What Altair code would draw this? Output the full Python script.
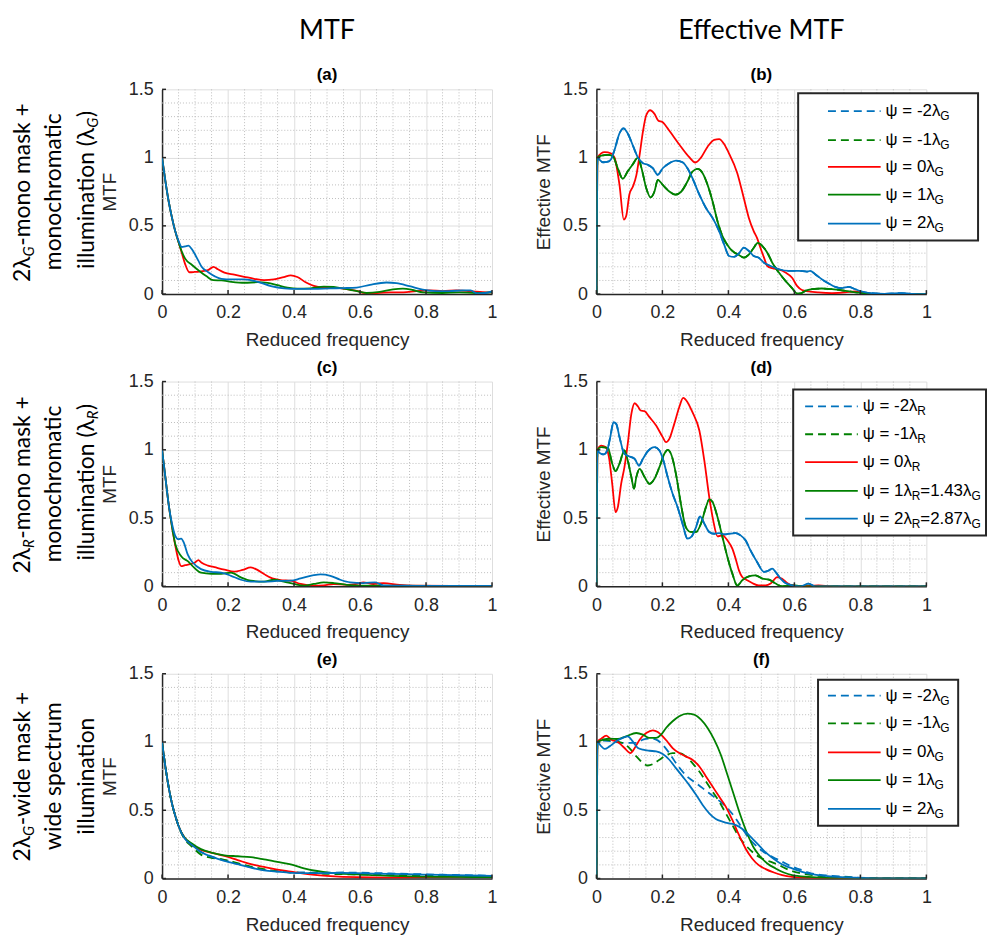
import altair as alt
import pandas as pd

# ---------------- axis ticks / grid positions ----------------
XTICKS = [0, 0.2, 0.4, 0.6, 0.8, 1.0]
YTICKS = [0, 0.5, 1.0, 1.5]
X_MINOR = [0.05, 0.1, 0.15, 0.25, 0.3, 0.35, 0.45, 0.5, 0.55, 0.65, 0.7, 0.75, 0.85, 0.9, 0.95]
Y_MINOR = [0.1, 0.2, 0.3, 0.4, 0.6, 0.7, 0.8, 0.9, 1.1, 1.2, 1.3, 1.4]

# ---------------- panel (a): MTF, 2λG-mono mask, λG ----------------
A_RED_X = [0, 0.01, 0.02, 0.03, 0.04, 0.05, 0.06, 0.07, 0.083, 0.098, 0.118, 0.139, 0.156, 0.169, 0.189, 0.219, 0.249, 0.279, 0.309, 0.339, 0.369, 0.39, 0.41, 0.435, 0.46, 0.49, 0.51, 0.55, 0.59, 0.615, 0.651, 0.691, 0.731, 0.771, 0.811, 0.851, 0.892, 0.932, 0.972, 1.0]
A_RED_Y = [1.0, 0.83, 0.68, 0.56, 0.46, 0.38, 0.30, 0.22, 0.16, 0.162, 0.167, 0.175, 0.20, 0.182, 0.157, 0.142, 0.127, 0.112, 0.102, 0.108, 0.125, 0.137, 0.125, 0.087, 0.06, 0.048, 0.046, 0.04, 0.023, 0.008, 0.008, 0.012, 0.012, 0.022, 0.027, 0.022, 0.027, 0.022, 0.015, 0.012]
A_GREEN_X = [0, 0.01, 0.02, 0.03, 0.04, 0.05, 0.06, 0.07, 0.09, 0.11, 0.135, 0.155, 0.18, 0.21, 0.25, 0.29, 0.32, 0.35, 0.38, 0.41, 0.45, 0.49, 0.52, 0.55, 0.59, 0.62, 0.66, 0.70, 0.73, 0.76, 0.79, 0.85, 0.90, 0.95, 1.0]
A_GREEN_Y = [1.0, 0.83, 0.68, 0.56, 0.46, 0.38, 0.31, 0.26, 0.215, 0.175, 0.13, 0.102, 0.10, 0.09, 0.083, 0.087, 0.082, 0.065, 0.048, 0.04, 0.042, 0.055, 0.052, 0.04, 0.022, 0.008, 0.016, 0.035, 0.04, 0.03, 0.013, 0.008, 0.012, 0.008, 0.012]
A_BLUE_X = [0, 0.01, 0.02, 0.03, 0.04, 0.05, 0.06, 0.07, 0.08, 0.09, 0.10, 0.11, 0.12, 0.14, 0.16, 0.18, 0.21, 0.25, 0.29, 0.33, 0.37, 0.41, 0.46, 0.51, 0.55, 0.59, 0.63, 0.68, 0.71, 0.75, 0.79, 0.83, 0.87, 0.91, 0.935, 0.955, 0.98, 1.0]
A_BLUE_Y = [1.0, 0.83, 0.68, 0.56, 0.46, 0.39, 0.345, 0.35, 0.355, 0.33, 0.29, 0.245, 0.20, 0.16, 0.13, 0.112, 0.108, 0.108, 0.09, 0.058, 0.042, 0.038, 0.038, 0.042, 0.044, 0.048, 0.068, 0.085, 0.08, 0.058, 0.033, 0.022, 0.022, 0.027, 0.027, 0.005, 0.008, 0.02]

# ---------------- panel (b): Effective MTF ----------------
B_RED_X = [0, 0.003, 0.025, 0.045, 0.055, 0.07, 0.083, 0.09, 0.10, 0.111, 0.121, 0.131, 0.141, 0.151, 0.163, 0.176, 0.188, 0.20, 0.22, 0.25, 0.28, 0.30, 0.317, 0.337, 0.357, 0.372, 0.387, 0.40, 0.427, 0.447, 0.462, 0.477, 0.487, 0.497, 0.508, 0.518, 0.533, 0.553, 0.573, 0.593, 0.608, 0.623, 0.643, 0.673, 0.714, 0.754, 0.784, 0.804, 0.844, 1.0]
B_RED_Y = [0, 1.0, 1.04, 1.03, 1.0, 0.80, 0.546, 0.57, 0.73, 0.79, 0.87, 1.02, 1.19, 1.31, 1.347, 1.32, 1.27, 1.26, 1.20, 1.10, 1.007, 0.964, 1.0, 1.08, 1.13, 1.136, 1.10, 1.04, 0.886, 0.70, 0.558, 0.46, 0.41, 0.34, 0.267, 0.206, 0.19, 0.18, 0.158, 0.12, 0.06, 0.03, 0.02, 0.012, 0.007, 0.012, 0.02, 0.01, 0.0, 0.0]
B_GREEN_X = [0, 0.003, 0.015, 0.035, 0.05, 0.065, 0.08, 0.095, 0.11, 0.126, 0.136, 0.151, 0.164, 0.176, 0.186, 0.201, 0.221, 0.239, 0.256, 0.276, 0.291, 0.307, 0.322, 0.337, 0.352, 0.367, 0.382, 0.397, 0.412, 0.432, 0.447, 0.462, 0.477, 0.489, 0.503, 0.518, 0.533, 0.553, 0.573, 0.593, 0.608, 0.618, 0.633, 0.653, 0.683, 0.714, 0.754, 0.794, 0.844, 1.0]
B_GREEN_Y = [0, 1.0, 1.015, 1.02, 1.01, 0.92, 0.845, 0.90, 0.95, 1.0, 0.93, 0.777, 0.709, 0.752, 0.837, 0.80, 0.752, 0.728, 0.748, 0.825, 0.898, 0.917, 0.886, 0.80, 0.68, 0.534, 0.425, 0.36, 0.316, 0.286, 0.267, 0.29, 0.34, 0.376, 0.352, 0.303, 0.23, 0.158, 0.097, 0.044, 0.005, 0.005, 0.024, 0.036, 0.041, 0.036, 0.024, 0.01, 0.0, 0.0]
B_BLUE_X = [0, 0.003, 0.01, 0.02, 0.035, 0.045, 0.055, 0.07, 0.082, 0.095, 0.11, 0.126, 0.141, 0.156, 0.171, 0.186, 0.201, 0.221, 0.241, 0.261, 0.276, 0.291, 0.312, 0.332, 0.352, 0.372, 0.387, 0.402, 0.417, 0.432, 0.447, 0.462, 0.477, 0.492, 0.508, 0.528, 0.553, 0.583, 0.613, 0.638, 0.648, 0.663, 0.683, 0.704, 0.724, 0.744, 0.764, 0.784, 0.804, 0.834, 0.874, 0.925, 0.955, 1.0]
B_BLUE_Y = [0, 1.0, 0.983, 0.966, 0.97, 0.99, 1.056, 1.177, 1.214, 1.177, 1.092, 1.0, 0.959, 0.947, 0.922, 0.874, 0.922, 0.959, 0.978, 0.966, 0.922, 0.85, 0.728, 0.631, 0.558, 0.461, 0.364, 0.279, 0.272, 0.299, 0.34, 0.316, 0.279, 0.267, 0.23, 0.206, 0.182, 0.17, 0.17, 0.165, 0.17, 0.146, 0.109, 0.078, 0.053, 0.044, 0.053, 0.036, 0.019, 0.007, 0.002, 0.007, 0.002, 0.0]

# ---------------- panel (c): MTF, 2λR-mono mask, λR ----------------
C_RED_X = [0, 0.01, 0.02, 0.03, 0.04, 0.05, 0.058, 0.07, 0.085, 0.10, 0.11, 0.12, 0.139, 0.159, 0.189, 0.219, 0.244, 0.269, 0.289, 0.309, 0.334, 0.359, 0.39, 0.42, 0.46, 0.49, 0.52, 0.56, 0.59, 0.61, 0.64, 0.671, 0.72, 0.76, 1.0]
C_RED_Y = [1.0, 0.80, 0.60, 0.44, 0.30, 0.19, 0.148, 0.155, 0.162, 0.175, 0.192, 0.172, 0.152, 0.14, 0.122, 0.107, 0.12, 0.138, 0.12, 0.09, 0.058, 0.046, 0.041, 0.017, 0.005, 0.007, 0.017, 0.01, 0.017, 0.029, 0.017, 0.024, 0.01, 0.005, 0.002]
C_GREEN_X = [0, 0.01, 0.02, 0.03, 0.04, 0.058, 0.078, 0.098, 0.118, 0.149, 0.179, 0.209, 0.239, 0.269, 0.309, 0.339, 0.369, 0.40, 0.43, 0.46, 0.49, 0.52, 0.56, 0.60, 1.0]
C_GREEN_Y = [1.0, 0.80, 0.60, 0.44, 0.31, 0.22, 0.184, 0.135, 0.10, 0.092, 0.092, 0.10, 0.065, 0.041, 0.034, 0.048, 0.034, 0.017, 0.005, 0.017, 0.029, 0.024, 0.01, 0.005, 0.002]
C_BLUE_X = [0, 0.01, 0.02, 0.03, 0.04, 0.05, 0.058, 0.066, 0.078, 0.093, 0.118, 0.149, 0.179, 0.209, 0.239, 0.269, 0.309, 0.35, 0.39, 0.42, 0.46, 0.48, 0.51, 0.54, 0.57, 0.61, 0.646, 0.671, 0.72, 0.8, 1.0]
C_BLUE_Y = [1.0, 0.80, 0.60, 0.46, 0.37, 0.345, 0.35, 0.32, 0.232, 0.174, 0.126, 0.106, 0.10, 0.077, 0.048, 0.034, 0.034, 0.039, 0.041, 0.058, 0.082, 0.087, 0.077, 0.048, 0.029, 0.024, 0.029, 0.007, 0.005, 0.003, 0.003]

# ---------------- panel (d): Effective MTF ----------------
D_RED_X = [0, 0.003, 0.015, 0.028, 0.038, 0.048, 0.058, 0.065, 0.075, 0.085, 0.095, 0.106, 0.116, 0.126, 0.134, 0.146, 0.161, 0.181, 0.201, 0.211, 0.221, 0.236, 0.251, 0.263, 0.276, 0.291, 0.312, 0.327, 0.342, 0.354, 0.367, 0.382, 0.397, 0.412, 0.422, 0.432, 0.442, 0.457, 0.472, 0.492, 0.513, 0.528, 0.548, 0.563, 0.578, 0.593, 0.623, 0.673, 0.714, 1.0]
D_RED_Y = [0, 1.0, 1.03, 1.02, 0.946, 0.751, 0.544, 0.58, 0.751, 0.873, 1.044, 1.263, 1.341, 1.317, 1.288, 1.283, 1.239, 1.178, 1.093, 1.056, 1.08, 1.19, 1.312, 1.38, 1.349, 1.276, 1.141, 0.922, 0.654, 0.483, 0.366, 0.373, 0.337, 0.276, 0.202, 0.117, 0.068, 0.044, 0.024, 0.007, 0.007, 0.02, 0.068, 0.056, 0.024, 0.007, 0.0, 0.007, 0.0, 0.0]
D_GREEN_X = [0, 0.003, 0.015, 0.035, 0.048, 0.058, 0.07, 0.085, 0.095, 0.106, 0.114, 0.121, 0.131, 0.146, 0.161, 0.176, 0.191, 0.206, 0.216, 0.226, 0.241, 0.256, 0.271, 0.286, 0.302, 0.317, 0.332, 0.342, 0.352, 0.367, 0.382, 0.397, 0.412, 0.427, 0.442, 0.462, 0.482, 0.503, 0.523, 0.543, 0.563, 0.593, 0.633, 1.0]
D_GREEN_Y = [0, 1.0, 1.02, 1.012, 0.898, 0.844, 0.898, 0.995, 0.922, 0.80, 0.715, 0.80, 0.861, 0.80, 0.751, 0.788, 0.873, 0.971, 1.0, 0.971, 0.824, 0.605, 0.434, 0.398, 0.398, 0.459, 0.58, 0.637, 0.617, 0.507, 0.361, 0.215, 0.093, 0.005, 0.044, 0.073, 0.08, 0.056, 0.049, 0.02, 0.0, 0.007, 0.0, 0.0]
D_BLUE_X = [0, 0.003, 0.01, 0.022, 0.032, 0.042, 0.052, 0.06, 0.07, 0.085, 0.10, 0.116, 0.129, 0.141, 0.156, 0.176, 0.191, 0.203, 0.216, 0.231, 0.246, 0.261, 0.276, 0.289, 0.302, 0.314, 0.327, 0.342, 0.357, 0.372, 0.387, 0.402, 0.422, 0.437, 0.452, 0.467, 0.487, 0.508, 0.523, 0.533, 0.543, 0.558, 0.573, 0.593, 0.618, 0.643, 0.663, 1.0]
D_BLUE_Y = [0, 1.0, 0.976, 0.966, 0.99, 1.093, 1.202, 1.19, 1.093, 0.971, 0.951, 0.934, 0.885, 0.934, 0.99, 1.02, 0.995, 0.922, 0.80, 0.678, 0.58, 0.459, 0.349, 0.366, 0.434, 0.512, 0.459, 0.398, 0.385, 0.39, 0.38, 0.385, 0.39, 0.373, 0.337, 0.263, 0.178, 0.105, 0.117, 0.129, 0.105, 0.056, 0.024, 0.007, 0.0, 0.02, 0.0, 0.0]

# ---------------- panel (e): MTF, 2λG-wide mask ----------------
E_RED_X = [0, 0.01, 0.02, 0.03, 0.04, 0.05, 0.068, 0.088, 0.118, 0.149, 0.189, 0.229, 0.269, 0.309, 0.349, 0.39, 0.43, 0.47, 0.51, 0.59, 0.69, 0.79, 1.0]
E_RED_Y = [1.0, 0.82, 0.67, 0.55, 0.46, 0.385, 0.30, 0.25, 0.21, 0.19, 0.165, 0.135, 0.105, 0.085, 0.065, 0.05, 0.035, 0.025, 0.018, 0.01, 0.007, 0.01, 0.014]
E_GREEN_X = [0, 0.01, 0.02, 0.03, 0.04, 0.05, 0.068, 0.088, 0.118, 0.149, 0.189, 0.229, 0.269, 0.309, 0.349, 0.39, 0.43, 0.47, 0.51, 0.59, 0.69, 0.79, 0.89, 1.0]
E_GREEN_Y = [1.0, 0.82, 0.67, 0.55, 0.46, 0.385, 0.30, 0.26, 0.215, 0.19, 0.17, 0.163, 0.156, 0.14, 0.122, 0.103, 0.075, 0.055, 0.042, 0.03, 0.02, 0.014, 0.012, 0.01]
E_BLUE_X = [0, 0.01, 0.02, 0.03, 0.04, 0.05, 0.068, 0.088, 0.118, 0.149, 0.189, 0.229, 0.269, 0.309, 0.349, 0.39, 0.43, 0.49, 0.55, 0.59, 0.69, 0.79, 0.89, 1.0]
E_BLUE_Y = [1.0, 0.82, 0.67, 0.55, 0.46, 0.385, 0.295, 0.25, 0.195, 0.16, 0.13, 0.105, 0.08, 0.06, 0.05, 0.042, 0.04, 0.04, 0.041, 0.039, 0.034, 0.029, 0.024, 0.019]
E_GREEN_DASH_X = [0, 0.01, 0.02, 0.03, 0.04, 0.05, 0.068, 0.088, 0.118, 0.149, 0.169, 0.189, 0.229, 0.269, 0.309, 0.349, 0.39, 0.43, 0.49, 0.59, 0.79, 1.0]
E_GREEN_DASH_Y = [1.0, 0.82, 0.67, 0.55, 0.46, 0.385, 0.29, 0.24, 0.175, 0.152, 0.145, 0.137, 0.112, 0.088, 0.068, 0.053, 0.044, 0.04, 0.035, 0.03, 0.02, 0.012]
E_BLUE_DASH_X = [0, 0.01, 0.02, 0.03, 0.04, 0.05, 0.068, 0.088, 0.118, 0.149, 0.189, 0.229, 0.269, 0.309, 0.349, 0.39, 0.43, 0.49, 0.55, 0.59, 0.69, 0.79, 0.89, 1.0]
E_BLUE_DASH_Y = [1.0, 0.82, 0.67, 0.55, 0.46, 0.385, 0.295, 0.25, 0.195, 0.162, 0.133, 0.108, 0.083, 0.064, 0.053, 0.046, 0.044, 0.043, 0.044, 0.043, 0.037, 0.031, 0.026, 0.02]

# ---------------- panel (f): Effective MTF ----------------
F_RED_X = [0, 0.003, 0.015, 0.03, 0.045, 0.065, 0.085, 0.103, 0.116, 0.131, 0.151, 0.171, 0.186, 0.201, 0.216, 0.231, 0.251, 0.271, 0.291, 0.312, 0.332, 0.352, 0.372, 0.392, 0.412, 0.432, 0.452, 0.472, 0.492, 0.513, 0.538, 0.563, 0.593, 0.643, 0.693, 1.0]
F_RED_Y = [0, 1.0, 1.025, 1.047, 1.017, 1.0, 0.956, 0.919, 0.956, 1.017, 1.066, 1.086, 1.074, 1.042, 1.0, 0.956, 0.919, 0.895, 0.87, 0.821, 0.748, 0.674, 0.60, 0.527, 0.429, 0.319, 0.22, 0.147, 0.098, 0.069, 0.044, 0.025, 0.012, 0.005, 0.0, 0.0]
F_GREEN_X = [0, 0.003, 0.02, 0.04, 0.065, 0.09, 0.121, 0.141, 0.161, 0.181, 0.196, 0.211, 0.231, 0.251, 0.276, 0.296, 0.317, 0.337, 0.357, 0.377, 0.397, 0.417, 0.437, 0.457, 0.477, 0.497, 0.518, 0.543, 0.568, 0.593, 0.643, 0.693, 0.794, 1.0]
F_GREEN_Y = [0, 1.0, 1.017, 1.025, 1.022, 1.042, 1.066, 1.054, 1.03, 1.03, 1.054, 1.103, 1.152, 1.189, 1.208, 1.201, 1.164, 1.103, 1.017, 0.907, 0.76, 0.61, 0.46, 0.33, 0.225, 0.16, 0.11, 0.074, 0.044, 0.025, 0.012, 0.005, 0.0, 0.0]
F_BLUE_X = [0, 0.003, 0.015, 0.025, 0.04, 0.06, 0.08, 0.095, 0.11, 0.126, 0.141, 0.161, 0.181, 0.201, 0.221, 0.241, 0.261, 0.281, 0.302, 0.322, 0.342, 0.362, 0.382, 0.402, 0.417, 0.432, 0.452, 0.472, 0.492, 0.513, 0.533, 0.553, 0.573, 0.593, 0.623, 0.653, 0.693, 0.744, 0.794, 0.894, 1.0]
F_BLUE_Y = [0, 1.0, 0.968, 0.949, 0.968, 1.005, 1.03, 1.042, 1.005, 0.956, 0.944, 0.936, 0.931, 0.912, 0.87, 0.809, 0.748, 0.686, 0.613, 0.539, 0.478, 0.436, 0.417, 0.404, 0.397, 0.38, 0.343, 0.294, 0.245, 0.191, 0.152, 0.118, 0.093, 0.074, 0.049, 0.032, 0.02, 0.01, 0.005, 0.0, 0.0]
F_BLUE_DASH_X = [0, 0.003, 0.02, 0.05, 0.08, 0.10, 0.121, 0.141, 0.161, 0.181, 0.201, 0.221, 0.241, 0.261, 0.281, 0.302, 0.322, 0.342, 0.362, 0.382, 0.402, 0.422, 0.442, 0.462, 0.482, 0.503, 0.523, 0.543, 0.563, 0.583, 0.603, 0.623, 0.643, 0.673, 0.714, 0.794, 0.894, 1.0]
F_BLUE_DASH_Y = [0, 1.0, 1.01, 1.005, 0.993, 0.993, 0.993, 1.017, 1.025, 1.017, 0.98, 0.919, 0.846, 0.784, 0.735, 0.699, 0.662, 0.625, 0.588, 0.551, 0.502, 0.441, 0.368, 0.294, 0.245, 0.201, 0.172, 0.147, 0.123, 0.098, 0.078, 0.061, 0.044, 0.029, 0.02, 0.007, 0.0, 0.0]
F_GREEN_DASH_X = [0, 0.003, 0.02, 0.05, 0.08, 0.10, 0.121, 0.141, 0.156, 0.171, 0.191, 0.211, 0.231, 0.251, 0.271, 0.291, 0.312, 0.332, 0.352, 0.372, 0.392, 0.412, 0.432, 0.452, 0.472, 0.492, 0.513, 0.533, 0.553, 0.573, 0.593, 0.623, 0.663, 0.714, 0.794, 0.894, 1.0]
F_GREEN_DASH_Y = [0, 1.0, 1.017, 1.01, 0.993, 0.956, 0.895, 0.846, 0.828, 0.838, 0.87, 0.902, 0.919, 0.919, 0.895, 0.846, 0.784, 0.711, 0.637, 0.564, 0.478, 0.392, 0.306, 0.245, 0.196, 0.159, 0.135, 0.118, 0.098, 0.074, 0.054, 0.037, 0.022, 0.012, 0.005, 0.0, 0.0]

# ---------------- texts ----------------
COL_TITLES = ["MTF", "Effective MTF"]
PANEL_LABELS = ["(a)", "(b)", "(c)", "(d)", "(e)", "(f)"]
X_TITLE = "Reduced frequency"
Y_TITLES = ["MTF", "Effective MTF"]
# row labels: list of lines, each a list of (text, is_subscript)
ROW_A = [[("2λ", False), ("G", True), ("-mono mask +", False)],
         [("monochromatic", False)],
         [("illumination (λ", False), ("G", True), (")", False)]]
ROW_C = [[("2λ", False), ("R", True), ("-mono mask +", False)],
         [("monochromatic", False)],
         [("illumination (λ", False), ("R", True), (")", False)]]
ROW_E = [[("2λ", False), ("G", True), ("-wide mask +", False)],
         [("wide spectrum", False)],
         [("illumination", False)]]
LEG_G = [[("ψ = -2λ", False), ("G", True)],
         [("ψ = -1λ", False), ("G", True)],
         [("ψ = 0λ", False), ("G", True)],
         [("ψ = 1λ", False), ("G", True)],
         [("ψ = 2λ", False), ("G", True)]]
LEG_R = [[("ψ = -2λ", False), ("R", True)],
         [("ψ = -1λ", False), ("R", True)],
         [("ψ = 0λ", False), ("R", True)],
         [("ψ = 1λ", False), ("R", True), ("=1.43λ", False), ("G", True)],
         [("ψ = 2λ", False), ("R", True), ("=2.87λ", False), ("G", True)]]

# ---------------- style ----------------
W, H = 332, 206
RED, GREEN, BLUE = "#ff0000", "#008000", "#0072bd"
LEG_COLORS = [BLUE, GREEN, RED, GREEN, BLUE]
LEG_DASHED = [True, True, False, False, False]
AX = "#262626"
SANS = "Liberation Sans"
HUM = "Lato"
DASH = [8, 5]
LW = 1.8

ARIAL_W = {" ": .278, "=": .584, "-": .333, ".": .278, "ψ": .70, "λ": .50,
           "G": .778, "R": .722}
for d in "0123456789":
    ARIAL_W[d] = .556
LATO_W = {" ": .26, "a": .51, "c": .46, "d": .58, "e": .54, "h": .57, "i": .24,
          "k": .52, "l": .24, "m": .86, "n": .57, "o": .58, "p": .57, "r": .38,
          "s": .43, "t": .35, "u": .57, "w": .79, "+": .58, "-": .37, "(": .30,
          ")": .30, "2": .58, "λ": .60, "G": .72, "R": .62}


def tw(s, size, table):
    return sum(table.get(ch, 0.55) for ch in s) * size


ONE = pd.DataFrame({"k": [0]})
XS = alt.Scale(domain=[0, 1], nice=False, zero=False)
YS = alt.Scale(domain=[0, 1.5], nice=False, zero=False)

XAX = alt.Axis(values=XTICKS, format="~g", title=X_TITLE, grid=True,
               gridColor="#dedede", gridWidth=1, domainColor=AX, domainWidth=1.5,
               ticks=False, tickSize=0, labelFont=SANS, labelFontSize=18,
               labelColor=AX, labelPadding=10, labelFlush=False, labelOverlap=False,
               titleFont=SANS, titleFontSize=19, titleFontWeight="normal",
               titleColor=AX, titlePadding=9)


def yaxis(title):
    return alt.Axis(values=YTICKS, format="~g", title=title, grid=True,
                    gridColor="#dedede", gridWidth=1, domainColor=AX, domainWidth=1.5,
                    ticks=False, tickSize=0, labelFont=SANS, labelFontSize=18,
                    labelColor=AX, labelPadding=9, labelFlush=False, labelOverlap=False,
                    titleFont=SANS, titleFontSize=19, titleFontWeight="normal",
                    titleColor=AX, titlePadding=9)


def text_layer(text, x, y, size, font, weight="normal", align="center",
               baseline="middle", angle=0, style="normal", dx=0, dy=0, color="#000000"):
    return alt.Chart(ONE).mark_text(
        text=text, font=font, fontSize=size, fontWeight=weight, fontStyle=style,
        align=align, baseline=baseline, angle=angle, dx=dx, dy=dy, color=color
    ).encode(x=alt.value(x), y=alt.value(y))


def curve(xs, ys, color, yax, dashed=False):
    df = pd.DataFrame({"x": xs, "y": ys})
    kw = dict(color=color, strokeWidth=LW, interpolate="monotone", clip=True)
    if dashed:
        kw["strokeDash"] = DASH
    return alt.Chart(df).mark_line(**kw).encode(
        x=alt.X("x:Q", scale=XS, axis=XAX),
        y=alt.Y("y:Q", scale=YS, axis=yax),
    )


def minor_grid(yax):
    v = alt.Chart(pd.DataFrame({"v": X_MINOR})).mark_rule(
        color="#bdbdbd", strokeDash=[1, 2], strokeWidth=1
    ).encode(x=alt.X("v:Q", scale=XS, axis=XAX), y=alt.value(0), y2=alt.value(H))
    h = alt.Chart(pd.DataFrame({"v": Y_MINOR})).mark_rule(
        color="#bdbdbd", strokeDash=[1, 2], strokeWidth=1
    ).encode(y=alt.Y("v:Q", scale=YS, axis=yax), x=alt.value(0), x2=alt.value(W))
    return [v, h]


def inner_ticks(yax):
    # MATLAB-style ticks pointing into the plot area
    tx = alt.Chart(pd.DataFrame({"v": XTICKS})).mark_rule(color=AX, strokeWidth=1.5).encode(
        x=alt.X("v:Q", scale=XS, axis=XAX), y=alt.value(H - 4), y2=alt.value(H))
    ty = alt.Chart(pd.DataFrame({"v": YTICKS})).mark_rule(color=AX, strokeWidth=1.5).encode(
        y=alt.Y("v:Q", scale=YS, axis=yax), x=alt.value(0), x2=alt.value(4))
    return [tx, ty]


def row_label(lines):
    layers = []
    xs = [-140, -109, -75]
    yc = H / 2
    main, sub = 23, 15
    for xc, parts in zip(xs, lines):
        if len(parts) == 1:
            layers.append(text_layer(parts[0][0], xc, yc, main, HUM, angle=270))
            continue
        widths = [tw(t, sub if s else main, LATO_W) for t, s in parts]
        total = sum(widths)
        ay = yc + total / 2 - widths[0]
        layers.append(text_layer(parts[0][0], xc, ay, main, HUM, align="right", angle=270))
        off = 0
        for (t, s), w in zip(parts[1:], widths[1:]):
            layers.append(text_layer(t, xc, ay, sub if s else main, HUM, align="left",
                                     angle=270, dx=off, dy=6 if s else 0,
                                     style="italic" if s else "normal"))
            off += w
    return layers


def legend(entries, box, lx0, lx1, tx, rows):
    x0, y0, x1, y1 = box
    layers = [alt.Chart(ONE).mark_rect(fill="white", stroke=AX, strokeWidth=2).encode(
        x=alt.value(x0), x2=alt.value(x1), y=alt.value(y0), y2=alt.value(y1))]
    main, sub = 17, 12
    for parts, col, dsh, ry in zip(entries, LEG_COLORS, LEG_DASHED, rows):
        kw = dict(color=col, strokeWidth=LW)
        if dsh:
            kw["strokeDash"] = DASH
        layers.append(alt.Chart(ONE).mark_rule(**kw).encode(
            x=alt.value(lx0), x2=alt.value(lx1), y=alt.value(ry)))
        off = 0
        for t, s in parts:
            size = sub if s else main
            layers.append(text_layer(t, tx + off, ry + (5 if s else 0), size, SANS,
                                     align="left", color="#000000"))
            off += tw(t, size, ARIAL_W)
    return layers


def panel(curves, label, ytitle, legend_layers=None, col_title=None, row_lines=None):
    yax = yaxis(ytitle)
    layers = minor_grid(yax)
    for xs, ys, col, dsh in curves:
        layers.append(curve(xs, ys, col, yax, dsh))
    layers += inner_ticks(yax)
    layers.append(text_layer(label, W / 2, -9, 17, SANS, weight="bold",
                             baseline="alphabetic"))
    if legend_layers:
        layers += legend_layers
    if col_title:
        layers.append(text_layer(col_title, W / 2, -51, 27, HUM, baseline="alphabetic"))
    if row_lines:
        layers += row_label(row_lines)
    return alt.layer(*layers).properties(width=W, height=H)


pa = panel([(A_RED_X, A_RED_Y, RED, False), (A_GREEN_X, A_GREEN_Y, GREEN, False),
            (A_BLUE_X, A_BLUE_Y, BLUE, False)],
           PANEL_LABELS[0], Y_TITLES[0], col_title=COL_TITLES[0], row_lines=ROW_A)
pb = panel([(B_BLUE_X, B_BLUE_Y, BLUE, True), (B_GREEN_X, B_GREEN_Y, GREEN, True),
            (B_RED_X, B_RED_Y, RED, False), (B_GREEN_X, B_GREEN_Y, GREEN, False),
            (B_BLUE_X, B_BLUE_Y, BLUE, False)],
           PANEL_LABELS[1], Y_TITLES[1],
           legend_layers=legend(LEG_G, (203, 4, 384, 152), 233, 286, 291,
                                [22, 51, 78, 106, 135]),
           col_title=COL_TITLES[1])
pc = panel([(C_RED_X, C_RED_Y, RED, False), (C_GREEN_X, C_GREEN_Y, GREEN, False),
            (C_BLUE_X, C_BLUE_Y, BLUE, False)],
           PANEL_LABELS[2], Y_TITLES[0], row_lines=ROW_C)
pd_ = panel([(D_BLUE_X, D_BLUE_Y, BLUE, True), (D_GREEN_X, D_GREEN_Y, GREEN, True),
             (D_RED_X, D_RED_Y, RED, False), (D_GREEN_X, D_GREEN_Y, GREEN, False),
             (D_BLUE_X, D_BLUE_Y, BLUE, False)],
            PANEL_LABELS[3], Y_TITLES[1],
            legend_layers=legend(LEG_R, (198, 8, 392, 155), 210, 263, 268,
                                 [25, 53, 81, 110, 138]))
pe = panel([(E_BLUE_DASH_X, E_BLUE_DASH_Y, BLUE, True),
            (E_GREEN_DASH_X, E_GREEN_DASH_Y, GREEN, True),
            (E_RED_X, E_RED_Y, RED, False), (E_GREEN_X, E_GREEN_Y, GREEN, False),
            (E_BLUE_X, E_BLUE_Y, BLUE, False)],
           PANEL_LABELS[4], Y_TITLES[0], row_lines=ROW_E)
pf = panel([(F_BLUE_DASH_X, F_BLUE_DASH_Y, BLUE, True),
            (F_GREEN_DASH_X, F_GREEN_DASH_Y, GREEN, True),
            (F_RED_X, F_RED_Y, RED, False), (F_GREEN_X, F_GREEN_Y, GREEN, False),
            (F_BLUE_X, F_BLUE_Y, BLUE, False)],
           PANEL_LABELS[5], Y_TITLES[1],
           legend_layers=legend(LEG_G, (223, 6, 364, 153), 233, 286, 291,
                                [22, 50, 79, 107, 136]))

chart = alt.concat(pa, pb, pc, pd_, pe, pf, columns=2,
                   spacing=alt.RowColnumber(row=88, column=105),
                   bounds="flush").properties(
    padding={"left": 3, "top": 6, "right": 0, "bottom": 0}
).configure_view(strokeWidth=0)

chart.save("out.html", embed_options={"renderer": "svg", "actions": False})
